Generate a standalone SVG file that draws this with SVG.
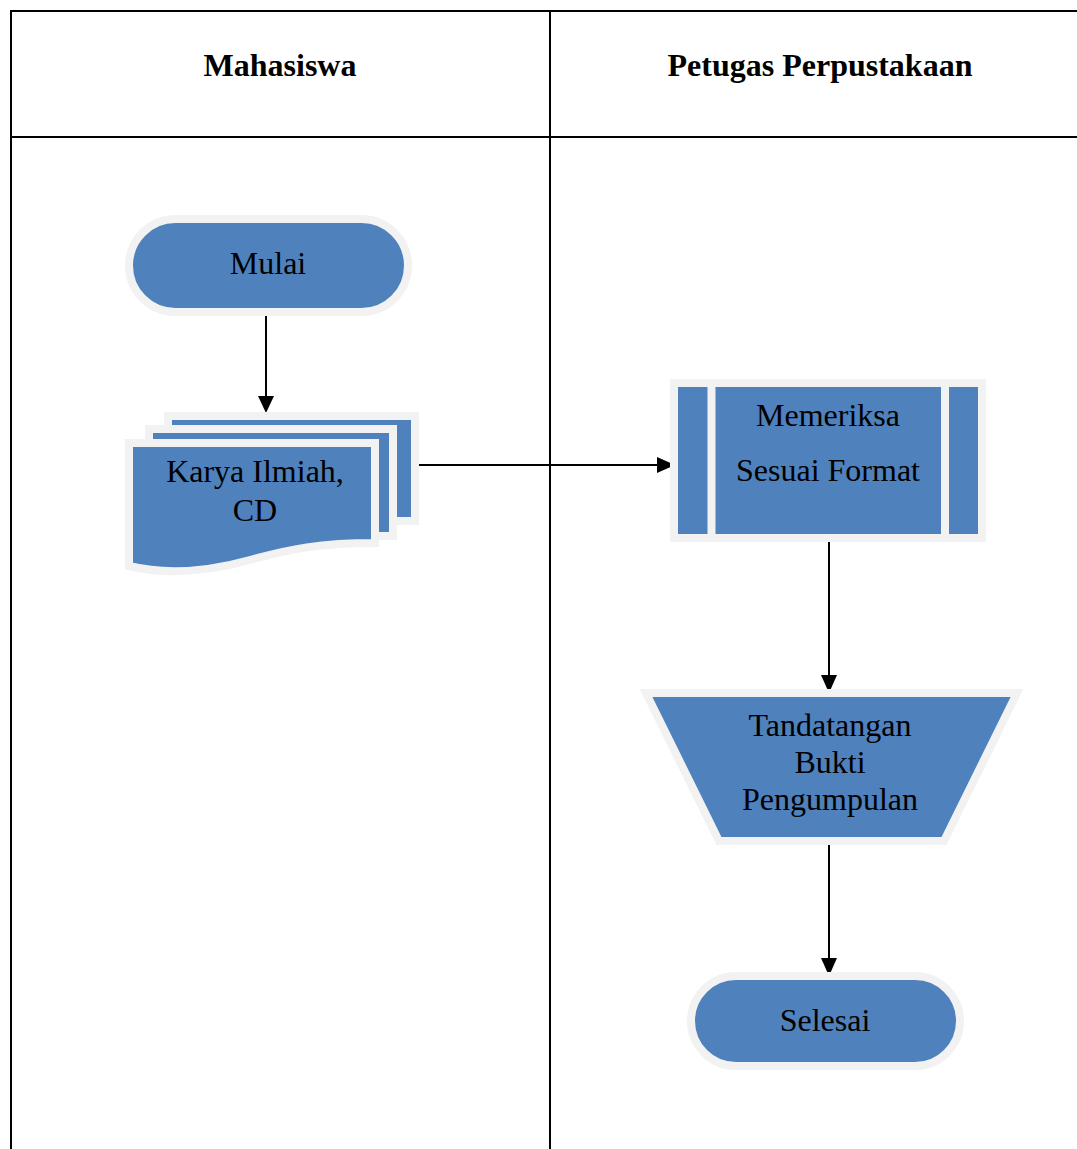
<svg xmlns="http://www.w3.org/2000/svg" width="1077" height="1149" viewBox="0 0 1077 1149">
<style>
.grid{stroke:#000;stroke-width:2;fill:none}
.shape{fill:#4F81BD;stroke:#F2F2F2;stroke-width:8;stroke-linejoin:miter}
.sep{stroke:#F2F2F2;stroke-width:8}
.t{font-family:"Liberation Serif","Times New Roman",serif;font-size:32px;fill:#000;text-anchor:middle}
.h{font-family:"Liberation Serif","Times New Roman",serif;font-size:32px;font-weight:bold;fill:#000;text-anchor:middle}
.conn{stroke:#000;stroke-width:2;fill:none}
.head{fill:#000}
</style>
<rect width="1077" height="1149" fill="#fff"/>
<g id="table">
<path class="grid" d="M11,1149 V11 H1077 M11,137 H1077 M550,11 V1149"/>
<text class="h" x="280" y="76">Mahasiswa</text>
<text class="h" x="820" y="76">Petugas Perpustakaan</text>
</g>
<g id="connectors">
<path class="conn" d="M266,312 V397"/>
<path class="head" d="M258,396 L274,396 L266,413 Z"/>
<path class="conn" d="M419,465 H657"/>
<path class="head" d="M657,457 L675,465 L657,473 Z"/>
<path class="conn" d="M829,538 V676"/>
<path class="head" d="M821,675 L837,675 L829,693 Z"/>
<path class="conn" d="M829,845 V959"/>
<path class="head" d="M821,958 L837,958 L829,976 Z"/>
</g>
<g id="mulai">
<rect class="shape" x="129" y="219" width="279" height="93" rx="46.5"/>
<text class="t" x="268" y="274">Mulai</text>
</g>
<g id="karya">
<rect class="shape" x="168" y="416" width="247" height="105"/>
<rect class="shape" x="149" y="429" width="244" height="107"/>
<path class="shape" d="M129,443 H375 V543 C320,543 290,549 250,560 C210,571 170,576 129,566 Z"/>
<text class="t" x="255" y="482">Karya Ilmiah,</text>
<text class="t" x="255" y="521">CD</text>
</g>
<g id="memeriksa">
<rect class="shape" x="674" y="383" width="308" height="155"/>
<line class="sep" x1="711.5" y1="383" x2="711.5" y2="538"/>
<line class="sep" x1="945" y1="383" x2="945" y2="538"/>
<text class="t" x="828" y="426">Memeriksa</text>
<text class="t" x="828" y="481">Sesuai Format</text>
</g>
<g id="tandatangan">
<polygon class="shape" points="646,693 1017,693 944,841 719,841"/>
<text class="t" x="830" y="736">Tandatangan</text>
<text class="t" x="830" y="773">Bukti</text>
<text class="t" x="830" y="810">Pengumpulan</text>
</g>
<g id="selesai">
<rect class="shape" x="691" y="976" width="269" height="90" rx="45"/>
<text class="t" x="825" y="1031">Selesai</text>
</g>
</svg>
